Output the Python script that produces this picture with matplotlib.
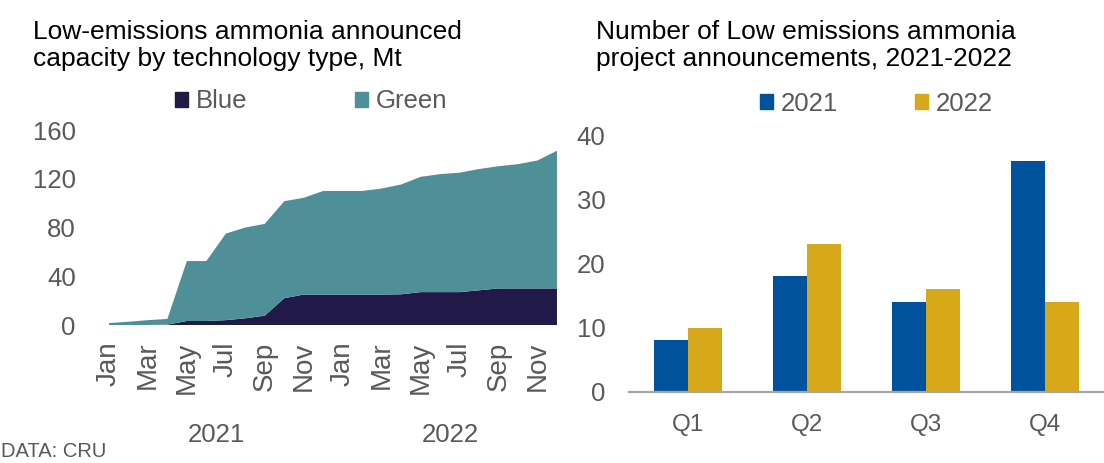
import numpy as np
import matplotlib
matplotlib.use("Agg")
import matplotlib.pyplot as plt
from matplotlib.patches import Patch
from matplotlib.transforms import blended_transform_factory

plt.rcParams['font.family'] = ['Liberation Sans', 'DejaVu Sans']

# ---------------------------------------------------------
# data
# ---------------------------------------------------------
months = ['Jan', 'Feb', 'Mar', 'Apr', 'May', 'Jun', 'Jul', 'Aug', 'Sep', 'Oct', 'Nov', 'Dec'] * 2
years = ['2021', '2022']

# cumulative announced capacity, Mt (Jan 2021 .. Dec 2022)
blue = [0, 0, 0, 0.3, 3.3, 3.3, 4, 5.5, 7.7, 22, 25, 25,
        25, 25, 25, 25.2, 27, 27, 27, 28.5, 30, 30, 30, 30]
green = [1.6, 2.7, 4, 4.7, 49.2, 49.2, 71, 74.5, 75.3, 79.6, 79.4, 85,
         85, 85, 87, 90.1, 94.6, 96.8, 98, 99.5, 100.3, 102, 105, 113]

quarters = ['Q1', 'Q2', 'Q3', 'Q4']
proj_2021 = [8, 18, 14, 36]
proj_2022 = [10, 23, 16, 14]

# ---------------------------------------------------------
# style
# ---------------------------------------------------------
C_BLUE = '#211A48'
C_GREEN = '#4F9098'
C_B21 = '#00529C'
C_G22 = '#D6A81A'
TXT = '#595959'
FS = 18.5

fig = plt.figure(figsize=(11.04, 4.63), dpi=100)

# ---------------------------------------------------------
# left: stacked area
# ---------------------------------------------------------
ax1 = fig.add_axes([0.0987, 0.298, 0.4058, 0.4212])
x = np.arange(len(blue))
ax1.stackplot(x, blue, green, colors=[C_BLUE, C_GREEN], linewidth=0)
ax1.set_xlim(0, len(blue) - 1)
ax1.set_ylim(0, 160)
ax1.set_yticks([0, 40, 80, 120, 160])
ax1.set_xticks(x[::2])
ax1.set_xticklabels(months[::2], rotation=90, va='top', ha='center')
for s in ax1.spines.values():
    s.set_visible(False)
ax1.tick_params(axis='y', length=0, pad=24, labelsize=FS, labelcolor=TXT)
ax1.tick_params(axis='x', length=0, pad=12, labelsize=20, labelcolor=TXT)

tr = blended_transform_factory(ax1.transData, fig.transFigure)
for i, yr in enumerate(years):
    ax1.text(5.5 + 12 * i, 0.0605, yr, transform=tr, ha='center', va='center',
             fontsize=FS, color=TXT)

fig.text(0.03, 0.957, "Low-emissions ammonia announced\ncapacity by technology type, Mt",
         ha='left', va='top', fontsize=19, color='black', linespacing=1.17)

fig.legend(handles=[Patch(color=C_BLUE, label='Blue'), Patch(color=C_GREEN, label='Green')],
           loc='center', bbox_to_anchor=(0.282, 0.781), ncol=2, frameon=False,
           fontsize=FS, labelcolor=TXT, handlelength=0.5, handleheight=0.5,
           handletextpad=0.3, columnspacing=4.2, borderpad=0)

# ---------------------------------------------------------
# right: grouped bars
# ---------------------------------------------------------
ax2 = fig.add_axes([0.5697, 0.154, 0.4303, 0.5544])
q = np.arange(len(quarters))
w = 0.286
ax2.bar(q - w / 2, proj_2021, w, color=C_B21, label='2021')
ax2.bar(q + w / 2, proj_2022, w, color=C_G22, label='2022')
ax2.set_xlim(-0.5, 3.5)
ax2.set_ylim(0, 40)
ax2.set_yticks([0, 10, 20, 30, 40])
ax2.set_xticks(q)
ax2.set_xticklabels(quarters)
for k in ['top', 'right', 'left']:
    ax2.spines[k].set_visible(False)
ax2.spines['bottom'].set_color('#A6A6A6')
ax2.spines['bottom'].set_linewidth(1.6)
ax2.tick_params(axis='y', length=0, pad=17, labelsize=FS, labelcolor=TXT)
ax2.tick_params(axis='x', length=0, pad=16, labelsize=17.5, labelcolor=TXT)

fig.text(0.540, 0.957, "Number of Low emissions ammonia\nproject announcements, 2021-2022",
         ha='left', va='top', fontsize=19, color='black', linespacing=1.17)

fig.legend(handles=[Patch(color=C_B21, label='2021'), Patch(color=C_G22, label='2022')],
           loc='center', bbox_to_anchor=(0.794, 0.776), ncol=2, frameon=False,
           fontsize=FS, labelcolor=TXT, handlelength=0.5, handleheight=0.5,
           handletextpad=0.3, columnspacing=3.0, borderpad=0)

fig.text(0.001, 0.004, "DATA: CRU", ha='left', va='bottom', fontsize=14.5, color=TXT)

fig.savefig("out.png", dpi=100)
